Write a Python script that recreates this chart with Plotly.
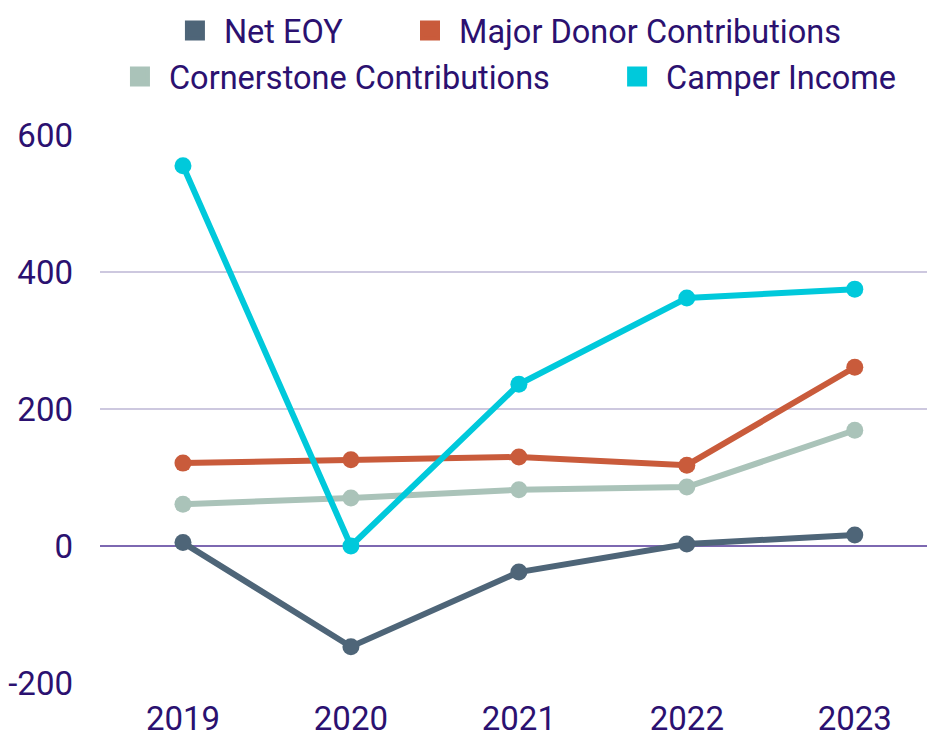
import plotly.graph_objects as go

years = ["2019", "2020", "2021", "2022", "2023"]
net_eoy = [5, -147, -38, 3, 16]
major_donor = [121, 126, 130, 118, 261]
cornerstone = [61, 70, 82, 86, 169]
camper_income = [555, 0, 236, 362, 375]

y_ticks = [-200, 0, 200, 400, 600]
y_tick_labels = ["-200", "0", "200", "400", "600"]

series_names = ["Net EOY", "Major Donor Contributions", "Cornerstone Contributions", "Camper Income"]
series_values = [net_eoy, major_donor, cornerstone, camper_income]
series_colors = ["#4e6578", "#c95b3b", "#aac3b9", "#00c9db"]

text_color = "#2b1170"
font_family = "Roboto"

# legend placement (container coords): one legend box per entry
legend_ids = ["legend", "legend2", "legend3", "legend4"]
legend_x = [0.179, 0.4326, 0.1197, 0.656]
legend_y = [0.958, 0.958, 0.895, 0.895]

fig = go.Figure()
for name, vals, color in zip(series_names, series_values, series_colors):
    fig.add_trace(go.Scatter(
        x=years, y=vals, mode="lines+markers", name=name,
        line=dict(color=color, width=6),
        marker=dict(color=color, size=17),
        showlegend=False, cliponaxis=False,
    ))
for name, color, lg in zip(series_names, series_colors, legend_ids):
    fig.add_trace(go.Scatter(
        x=[None], y=[None], mode="markers", name=name,
        marker=dict(color=color, size=16, symbol="square", line=dict(color=color, width=4)),
        showlegend=True, legend=lg,
    ))

legend_layout = {}
for lg, lx, ly in zip(legend_ids, legend_x, legend_y):
    legend_layout[lg] = dict(
        orientation="h", xref="container", yref="container",
        x=lx, xanchor="left", y=ly, yanchor="middle",
        font=dict(size=32.5, color=text_color, family=font_family),
        itemwidth=48, bgcolor="rgba(0,0,0,0)",
    )

fig.update_layout(
    width=927, height=733,
    margin=dict(l=100, r=0, t=135, b=50, autoexpand=False),
    paper_bgcolor="white", plot_bgcolor="white",
    font=dict(family=font_family, color=text_color, size=32),
    xaxis=dict(type="category", range=[-0.494, 4.43], showgrid=False, zeroline=False,
               showline=False, ticks="", tickfont=dict(size=33, color=text_color),
               ticklabelstandoff=13),
    yaxis=dict(range=[-200, 600], tickvals=y_ticks, ticktext=y_tick_labels,
               showgrid=True, gridcolor="#cdc8df", gridwidth=1.5,
               zeroline=True, zerolinecolor="#7d68b1", zerolinewidth=1.5,
               showline=False, ticks="", tickfont=dict(size=33, color=text_color),
               ticklabelstandoff=26),
    **legend_layout,
)

fig.write_html("out.html", config={"displayModeBar": False},
               post_script="document.body.style.margin='0';")
